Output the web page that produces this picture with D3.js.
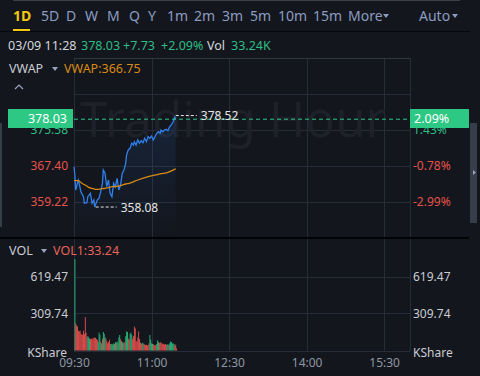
<!DOCTYPE html>
<html>
<head>
<meta charset="utf-8">
<script src="https://cdn.jsdelivr.net/npm/d3@7"></script>
<style>
  body { margin: 0; background: #13161d; }
  svg { display: block; font-family: "Noto Sans", sans-serif; }
</style>
</head>
<body>
<script>
// ---- data ----
var tabs = ["1D","5D","D","W","M","Q","Y","1m","2m","3m","5m","10m","15m","More"],
  tabX = [13,41,66,85,107,129,148,167,194,222,250,278,313,348];

var prevClose = 370.30,
  lastPrice = 378.03,
  lastVol1 = 33.24;

var timeTicks = [0, 90, 180, 270, 360],
  timeLabels = ["09:30","11:00","12:30","14:00","15:30"];

var priceTicks = [383.76, 375.58, 367.40, 359.22],
  volTicks = [619.47, 309.74];

// minutes after 09:30 / price
var priceMin = [0,1,2,5,6,8,11,12,15,16,19,21,23,24,27,29,31,33,34,36,38,40,42,44,46,48,50,52,54,56,58,60,61,63,65,67,69,70,72,74,76,78,80,82,84,86,88,90,92,94,96,98,100,101,103,105,107,109,111,113,115,117,118];
var priceVal = [367.24,365.36,361.95,364.22,363.47,361.56,360.42,358.92,359.06,360.42,361.20,358.92,359.67,358.08,359.67,360.06,361.56,363.47,366.49,365.74,362.70,364.22,361.20,360.42,363.47,362.70,364.61,361.95,363.08,365.74,366.49,368.01,369.90,371.04,371.42,372.56,372.17,372.92,372.17,373.31,372.56,373.15,372.69,373.69,372.92,374.06,373.69,374.22,373.31,374.06,374.83,375.19,374.83,375.58,375.19,375.58,375.74,375.42,376.33,376.72,377.47,378.52,378.03];

var vwapMin = [0,5,9,13,17,21,25,29,33,36,40,44,48,52,56,60,64,74,86,98,109,118];
var vwapVal = [364.06,364.06,363.47,363.08,362.56,362.33,362.10,362.10,362.24,362.33,362.47,362.70,362.70,362.85,363.08,363.31,363.47,364.22,364.97,365.51,365.97,366.75];

// volume per minute (K shares), G = up, R = down
var volume = [766,228,210,200,165,160,165,140,135,130,165,140,280,150,110,120,110,100,95,100,
  90,105,100,110,105,95,90,70,150,130,75,60,100,155,140,110,100,80,60,70,
  90,55,55,50,52,60,55,70,65,75,60,110,130,95,80,70,60,70,65,120,
  160,155,100,90,140,150,130,95,120,200,185,80,75,110,160,95,65,55,65,60,
  55,50,45,48,42,45,60,130,90,60,55,52,45,42,48,55,85,70,62,70,
  65,55,60,52,50,55,48,50,52,45,60,75,70,58,60,55,40,50,18];
var volDir = ["G","RRRRRRRRRRRRRR","GGG","RRRRRRRRR","GGG","RGRGGG","RRRRRR","GGGG","R","GGG","R","GG","R",
  "GGG","RR","GGG","RR","GGG","RRRRRRRRRRR","GG","RRRRRRR","GGGG","RRRR","GGG","RRRRRRRRR","GG","R","GGGGGG","RRR"].join("").split("");

// ---- style ----
var green = "#2ebd85", badge = "#2dc884", red = "#e5534b", blue = "#2f80ed",
  orange = "#d98a14", grid = "#272d38", txt = "#c9ccd3", dim = "#8f96a3";

var left = 74, right = 410,
  pTop = 58, pBot = 237,
  vTop = 239, vBot = 351;

var svg = d3.select("body").append("svg").attr("width", 480).attr("height", 376);

var x = d3.scaleLinear().domain([0, 390]).range([left, right]);
var y = d3.scaleLinear().domain([359.22, 375.58]).range([202, 130]);
var yv = d3.scaleLinear().domain([0, 619.47]).range([350.5, 276.5]);

// ---- header ----
svg.append("line").attr("x1", 13).attr("x2", 460).attr("y1", 0.5).attr("y2", 0.5).style("stroke", "#3b404b");

svg.append("g").selectAll("text").data(tabs).enter().append("text")
  .attr("x", function (d, i) { return tabX[i]; })
  .attr("y", 21)
  .style("font-size", "14px")
  .style("font-weight", function (d, i) { return i ? "normal" : "bold"; })
  .style("fill", function (d, i) { return i ? "#8c9cc0" : "#f2c811"; })
  .text(function (d) { return d; });
svg.append("path").attr("d", "M383,14h6l-3,4z").style("fill", "#8c9cc0");
svg.append("text").attr("x", 419).attr("y", 21).style("font-size", "14px").style("fill", "#8c9cc0").text("Auto");
svg.append("path").attr("d", "M452,14h6l-3,4z").style("fill", "#8c9cc0");
svg.append("rect").attr("x", 13).attr("y", 29).attr("width", 17).attr("height", 2).style("fill", "#f2c811");
svg.append("line").attr("x1", 0).attr("x2", 470).attr("y1", 31.5).attr("y2", 31.5).style("stroke", "#05070a");

var info = [
  {t: "03/09 11:28", x: 8, c: "#d4d6db"},
  {t: lastPrice.toFixed(2), x: 81, c: green},
  {t: "+" + (lastPrice - prevClose).toFixed(2), x: 123, c: green},
  {t: "+" + ((lastPrice / prevClose - 1) * 100).toFixed(2) + "%", x: 161, c: green},
  {t: "Vol", x: 207, c: "#d4d6db"},
  {t: "33.24K", x: 231, c: green}
];
svg.append("g").selectAll("text").data(info).enter().append("text")
  .attr("x", function (d) { return d.x; }).attr("y", 50)
  .style("font-size", "12.5px").style("fill", function (d) { return d.c; })
  .text(function (d) { return d.t; });

// ---- grid ----
var g = svg.append("g").style("stroke", grid).style("stroke-width", 1);
g.selectAll(".h").data(priceTicks).enter().append("line")
  .attr("x1", left).attr("x2", right)
  .attr("y1", function (d) { return Math.round(y(d)) + 0.5; })
  .attr("y2", function (d) { return Math.round(y(d)) + 0.5; });
g.selectAll(".hv").data(volTicks).enter().append("line")
  .attr("x1", left).attr("x2", right)
  .attr("y1", function (d) { return Math.round(yv(d)) + 0.5; })
  .attr("y2", function (d) { return Math.round(yv(d)) + 0.5; });
g.selectAll(".v").data(timeTicks.concat([390])).enter().append("line")
  .attr("x1", function (d) { return Math.round(x(d)) + 0.5; })
  .attr("x2", function (d) { return Math.round(x(d)) + 0.5; })
  .attr("y1", pTop).attr("y2", vBot);
g.append("line").attr("x1", left).attr("x2", right).attr("y1", pTop + 0.5).attr("y2", pTop + 0.5).style("stroke", "#303643");
g.append("line").attr("x1", left).attr("x2", right).attr("y1", vBot + 0.5).attr("y2", vBot + 0.5);
svg.append("line").attr("x1", 0).attr("x2", 469).attr("y1", 238).attr("y2", 238).style("stroke", "#020305").style("stroke-width", 2);

// watermark
svg.append("text").attr("x", 80).attr("y", 137)
  .attr("textLength", 306).attr("lengthAdjust", "spacingAndGlyphs")
  .style("font-size", "50px").style("fill", "#1e2129").text("Trading Hour");

// ---- price ----
var defs = svg.append("defs");
var grad = defs.append("linearGradient").attr("id", "fill").attr("x1", 0).attr("x2", 0).attr("y1", 0).attr("y2", 1);
grad.append("stop").attr("offset", "0%").style("stop-color", "#2f80ed").style("stop-opacity", 0.13);
grad.append("stop").attr("offset", "100%").style("stop-color", "#2f80ed").style("stop-opacity", 0);

var pts = priceMin.map(function (m, i) { return [m, priceVal[i]]; });
svg.append("path").datum(pts)
  .attr("d", d3.area().x(function (d) { return x(d[0]); }).y0(pBot).y1(function (d) { return y(d[1]); }))
  .style("fill", "url(#fill)");
svg.append("path").datum(pts)
  .attr("d", d3.line().x(function (d) { return x(d[0]); }).y(function (d) { return y(d[1]); }))
  .style("fill", "none").style("stroke", blue).style("stroke-width", 1.3);

var vw = vwapMin.map(function (m, i) { return [m, vwapVal[i]]; });
svg.append("path").datum(vw)
  .attr("d", d3.line().curve(d3.curveMonotoneX).x(function (d) { return x(d[0]); }).y(function (d) { return y(d[1]); }))
  .style("fill", "none").style("stroke", orange).style("stroke-width", 1.3);

// last price line
svg.append("line").attr("x1", left).attr("x2", right)
  .attr("y1", y(lastPrice)).attr("y2", y(lastPrice))
  .style("stroke", badge).style("stroke-dasharray", "4,3");

// high / low markers
var hiI = d3.maxIndex(priceVal), loI = d3.minIndex(priceVal);
[[hiI, -1.5], [loI, 0]].forEach(function (e) {
  var px = x(priceMin[e[0]]) + 1, py = y(priceVal[e[0]]) + e[1];
  svg.append("line").attr("x1", px).attr("x2", px + 21).attr("y1", py).attr("y2", py)
    .style("stroke", "#e6e6e6").style("stroke-dasharray", "3,2");
  svg.append("text").attr("x", px + 25).attr("y", py + 4.5)
    .style("font-size", "12px").style("fill", "#e6e6e6").text(priceVal[e[0]].toFixed(2));
});

// price axes
var pct = function (d) { return (d / prevClose - 1) * 100; };
var axL = svg.append("g").attr("transform", "translate(68,0)")
  .call(d3.axisLeft(y).tickValues(priceTicks.slice(1)).tickSize(0).tickPadding(0).tickFormat(d3.format(".2f")));
var axR = svg.append("g").attr("transform", "translate(413,0)")
  .call(d3.axisRight(y).tickValues(priceTicks.slice(1)).tickSize(0).tickPadding(0)
    .tickFormat(function (d) { return pct(d).toFixed(2) + "%"; }));
[axL, axR].forEach(function (ax) {
  ax.select(".domain").remove();
  ax.selectAll("text").style("font-size", "12px").style("font-family", "Noto Sans")
    .style("fill", function (d) { return d >= prevClose ? green : red; });
});

// badges
svg.append("rect").attr("x", 8).attr("y", 109).attr("width", 65).attr("height", 19).style("fill", badge);
svg.append("text").attr("x", 67).attr("y", 123).attr("text-anchor", "end")
  .style("font-size", "12.5px").style("fill", "#fff").text(lastPrice.toFixed(2));
svg.append("rect").attr("x", 410).attr("y", 109).attr("width", 59).attr("height", 19).style("fill", badge);
svg.append("text").attr("x", 414).attr("y", 123)
  .style("font-size", "12.5px").style("fill", "#fff").text(pct(lastPrice).toFixed(2) + "%");

// indicator labels
svg.append("text").attr("x", 9).attr("y", 73).style("font-size", "12.5px").style("fill", txt).text("VWAP");
svg.append("path").attr("d", "M52,67h6l-3,4z").style("fill", "#9aa3c0");
svg.append("text").attr("x", 64).attr("y", 73).style("font-size", "12.5px").style("fill", orange)
  .text("VWAP:" + vwapVal[vwapVal.length - 1].toFixed(2));
svg.append("path").attr("d", "M15,89l4,-4l4,4").style("fill", "none").style("stroke", "#9aa3c0").style("stroke-width", 1.2);

// scrollbars
svg.append("rect").attr("x", 470).attr("y", 123).attr("width", 7).attr("height", 100).style("fill", "#363d4b");
svg.append("path").attr("d", "M473,170v5l3,-2.5z").style("fill", "#9aa3b5");
svg.append("rect").attr("x", 0).attr("y", 123).attr("width", 2).attr("height", 104).style("fill", "#363d4b");

// ---- volume ----
svg.append("text").attr("x", 9).attr("y", 255).style("font-size", "12.5px").style("fill", txt).text("VOL");
svg.append("path").attr("d", "M41,249h6l-3,4z").style("fill", "#9aa3c0");
svg.append("text").attr("x", 53).attr("y", 255).style("font-size", "12.5px").style("fill", "#e5645a")
  .text("VOL1:" + lastVol1.toFixed(2));

var bw = x(1) - x(0);
svg.append("g").selectAll("rect").data(volume).enter().append("rect")
  .attr("x", function (d, i) { return x(i) + 0.5; })
  .attr("y", function (d) { return yv(d); })
  .attr("width", bw)
  .attr("height", function (d) { return yv(0) - yv(d); })
  .style("fill", function (d, i) { return volDir[i] === "G" ? "#26c281" : "#ef5350"; });

var vL = svg.append("g").attr("transform", "translate(68,0)")
  .call(d3.axisLeft(yv).tickValues(volTicks).tickSize(0).tickPadding(0).tickFormat(d3.format(".2f")));
var vR = svg.append("g").attr("transform", "translate(413,0)")
  .call(d3.axisRight(yv).tickValues(volTicks).tickSize(0).tickPadding(0).tickFormat(d3.format(".2f")));
[vL, vR].forEach(function (ax) {
  ax.select(".domain").remove();
  ax.selectAll("text").style("font-size", "12px").style("font-family", "Noto Sans").style("fill", txt);
});
svg.append("text").attr("x", 67).attr("y", 357).attr("text-anchor", "end").style("font-size", "12px").style("fill", txt).text("KShare");
svg.append("text").attr("x", 413).attr("y", 357).style("font-size", "12px").style("fill", txt).text("KShare");

// time axis
var tx = svg.append("g").attr("transform", "translate(0," + (vBot + 7) + ")")
  .call(d3.axisBottom(x).tickValues(timeTicks).tickSize(0).tickPadding(0)
    .tickFormat(function (d, i) { return timeLabels[i]; }));
tx.select(".domain").remove();
tx.selectAll("text").style("font-size", "12px").style("font-family", "Noto Sans").style("fill", dim);
</script>
</body>
</html>
